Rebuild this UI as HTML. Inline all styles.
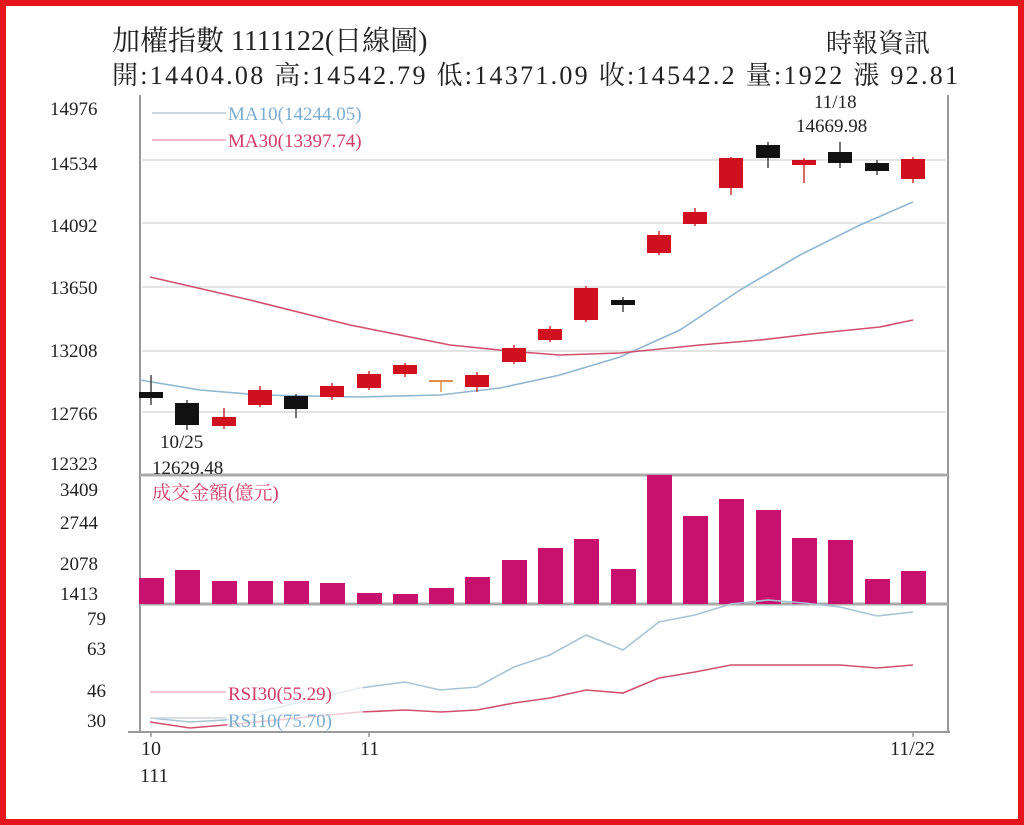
<!DOCTYPE html>
<html><head><meta charset="utf-8"><style>
body{margin:0;background:#fff}
svg{display:block}
text{font-family:"Liberation Serif","Noto Serif CJK SC",serif}
</style></head><body>
<svg width="1024" height="825" viewBox="0 0 1024 825">
<rect x="0" y="0" width="1024" height="825" fill="#fff"/>
<rect x="3" y="3" width="1018" height="819" fill="none" stroke="#e8141b" stroke-width="6"/>
<text x="112" y="50" font-size="28" fill="#222">加權指數 1111122(日線圖)</text>
<text x="826" y="52" font-size="26" fill="#222">時報資訊</text>
<text x="112" y="84" font-size="26" fill="#222" textLength="846" lengthAdjust="spacing">開:14404.08 高:14542.79 低:14371.09 收:14542.2 量:1922 漲 92.81</text>
<g stroke="#e4e4e4" stroke-width="2">
<line x1="142" y1="160" x2="946" y2="160"/><line x1="142" y1="223" x2="946" y2="223"/>
<line x1="142" y1="287" x2="946" y2="287"/><line x1="142" y1="351" x2="946" y2="351"/>
<line x1="142" y1="412" x2="946" y2="412"/>
</g>
<g stroke="#999" fill="none">
<line x1="140" y1="95" x2="140" y2="732" stroke-width="2"/>
<line x1="948" y1="95" x2="948" y2="732" stroke-width="2"/>
<line x1="140" y1="475" x2="948" y2="475" stroke-width="3" stroke="#aaa"/>
<line x1="140" y1="604" x2="948" y2="604" stroke-width="3" stroke="#aaa"/>
<line x1="128" y1="732" x2="950" y2="732" stroke-width="2"/>
</g>
<g font-size="19" fill="#222">
<text x="50" y="115">14976</text><text x="50" y="170">14534</text><text x="50" y="232">14092</text>
<text x="50" y="294">13650</text><text x="50" y="357">13208</text><text x="50" y="420">12766</text>
<text x="50" y="470">12323</text>
<text x="60" y="496">3409</text><text x="60" y="529">2744</text><text x="60" y="570">2078</text><text x="60" y="600">1413</text>
<text x="87" y="625">79</text><text x="87" y="655">63</text><text x="87" y="697">46</text><text x="87" y="727">30</text>
</g>
<polyline fill="none" stroke="#8fb7cf" stroke-width="1.6" points="140,380 200,390 260,395 360,397 440,395 500,388 560,375 620,357 680,330 740,290 800,255 860,225 913,202"/>
<polyline fill="none" stroke="#d0506e" stroke-width="1.6" points="150,277 250,300 350,325 450,345 520,352 560,355 620,353 700,345 760,340 820,333 880,327 913,320"/>
<line x1="152" y1="113" x2="226" y2="113" stroke="#b8ccd8" stroke-width="1.5"/>
<line x1="152" y1="140" x2="226" y2="140" stroke="#e8a0b0" stroke-width="1.5"/>
<text x="228" y="120" font-size="19" fill="#7aaed0">MA10(14244.05)</text>
<text x="228" y="147" font-size="19" fill="#d23a66">MA30(13397.74)</text>
<g stroke-width="1.5">
<line x1="151" y1="375" x2="151" y2="405" stroke="#444"/><rect x="139" y="392" width="24" height="6" fill="#111"/>
<line x1="187" y1="400" x2="187" y2="430" stroke="#444"/><rect x="175" y="403" width="24" height="22" fill="#111"/>
<line x1="224" y1="408" x2="224" y2="429" stroke="#c33"/><rect x="212" y="417" width="24" height="9" fill="#d0101e"/>
<line x1="260" y1="386" x2="260" y2="407" stroke="#c33"/><rect x="248" y="390" width="24" height="15" fill="#d0101e"/>
<line x1="296" y1="394" x2="296" y2="418" stroke="#444"/><rect x="284" y="396" width="24" height="13" fill="#111"/>
<line x1="332" y1="383" x2="332" y2="400" stroke="#c33"/><rect x="320" y="386" width="24" height="11" fill="#d0101e"/>
<line x1="369" y1="371" x2="369" y2="390" stroke="#c33"/><rect x="357" y="374" width="24" height="14" fill="#d0101e"/>
<line x1="405" y1="363" x2="405" y2="377" stroke="#c33"/><rect x="393" y="365" width="24" height="9" fill="#d0101e"/>
<line x1="441" y1="381" x2="441" y2="392" stroke="#e0904a"/><line x1="429" y1="381" x2="453" y2="381" stroke="#e0904a" stroke-width="2"/>
<line x1="477" y1="372" x2="477" y2="392" stroke="#c33"/><rect x="465" y="375" width="24" height="12" fill="#d0101e"/>
<line x1="514" y1="345" x2="514" y2="364" stroke="#c33"/><rect x="502" y="348" width="24" height="14" fill="#d0101e"/>
<line x1="550" y1="326" x2="550" y2="342" stroke="#c33"/><rect x="538" y="329" width="24" height="11" fill="#d0101e"/>
<line x1="586" y1="286" x2="586" y2="322" stroke="#c33"/><rect x="574" y="288" width="24" height="32" fill="#d0101e"/>
<line x1="623" y1="297" x2="623" y2="312" stroke="#444"/><rect x="611" y="300" width="24" height="5" fill="#111"/>
<line x1="659" y1="231" x2="659" y2="255" stroke="#c33"/><rect x="647" y="235" width="24" height="18" fill="#d0101e"/>
<line x1="695" y1="208" x2="695" y2="226" stroke="#c33"/><rect x="683" y="212" width="24" height="12" fill="#d0101e"/>
<line x1="731" y1="157" x2="731" y2="195" stroke="#c33"/><rect x="719" y="158" width="24" height="30" fill="#d0101e"/>
<line x1="768" y1="142" x2="768" y2="168" stroke="#444"/><rect x="756" y="145" width="24" height="13" fill="#111"/>
<line x1="804" y1="158" x2="804" y2="183" stroke="#c33"/><rect x="792" y="160" width="24" height="5" fill="#d0101e"/>
<line x1="840" y1="142" x2="840" y2="168" stroke="#444"/><rect x="828" y="152" width="24" height="11" fill="#111"/>
<line x1="877" y1="160" x2="877" y2="175" stroke="#444"/><rect x="865" y="163" width="24" height="8" fill="#111"/>
<line x1="913" y1="157" x2="913" y2="183" stroke="#c33"/><rect x="901" y="159" width="24" height="20" fill="#d0101e"/>
</g>
<text x="160" y="448" font-size="19" fill="#222">10/25</text>
<text x="152" y="474" font-size="19" fill="#222">12629.48</text>
<text x="814" y="108" font-size="19" fill="#222">11/18</text>
<text x="796" y="132" font-size="19" fill="#222">14669.98</text>
<g fill="#c8106e">
<rect x="139" y="578" width="25" height="26"/><rect x="175" y="570" width="25" height="34"/>
<rect x="212" y="581" width="25" height="23"/><rect x="248" y="581" width="25" height="23"/>
<rect x="284" y="581" width="25" height="23"/><rect x="320" y="583" width="25" height="21"/>
<rect x="357" y="593" width="25" height="11"/><rect x="393" y="594" width="25" height="10"/>
<rect x="429" y="588" width="25" height="16"/><rect x="465" y="577" width="25" height="27"/>
<rect x="502" y="560" width="25" height="44"/><rect x="538" y="548" width="25" height="56"/>
<rect x="574" y="539" width="25" height="65"/><rect x="611" y="569" width="25" height="35"/>
<rect x="647" y="475" width="25" height="129"/><rect x="683" y="516" width="25" height="88"/>
<rect x="719" y="499" width="25" height="105"/><rect x="756" y="510" width="25" height="94"/>
<rect x="792" y="538" width="25" height="66"/><rect x="828" y="540" width="25" height="64"/>
<rect x="865" y="579" width="25" height="25"/><rect x="901" y="571" width="25" height="33"/>
</g>
<text x="152" y="499" font-size="19" fill="#d23a66">成交金額(億元)</text>
<polyline fill="none" stroke="#a8c4d4" stroke-width="1.6" points="150,718 190,722 225,720 360,688 405,682 440,690 477,687 514,667 550,655 586,635 623,650 659,622 695,615 731,604 768,600 804,603 840,607 877,616 913,612"/>
<polyline fill="none" stroke="#d0506e" stroke-width="1.6" points="150,722 190,728 225,725 360,712 405,710 441,712 477,710 514,703 550,698 586,690 623,693 659,678 695,672 731,665 768,665 804,665 840,665 877,668 913,665"/>
<line x1="150" y1="692" x2="226" y2="692" stroke="#f0b8c4" stroke-width="1.5"/>
<line x1="150" y1="718" x2="226" y2="718" stroke="#c8d8e0" stroke-width="1.5"/>
<rect x="227" y="680" width="136" height="48" fill="#fff" opacity="0.7"/>
<text x="228" y="700" font-size="19" fill="#d23a66">RSI30(55.29)</text>
<text x="228" y="727" font-size="19" fill="#7aaed0">RSI10(75.70)</text>
<g stroke="#999" stroke-width="1.5">
<line x1="151" y1="732" x2="151" y2="737"/><line x1="369" y1="732" x2="369" y2="737"/><line x1="913" y1="732" x2="913" y2="737"/>
</g>
<g font-size="20" fill="#222">
<text x="141" y="755">10</text><text x="140" y="782">111</text>
<text x="360" y="755">11</text><text x="890" y="755">11/22</text>
</g>
</svg>
</body></html>
